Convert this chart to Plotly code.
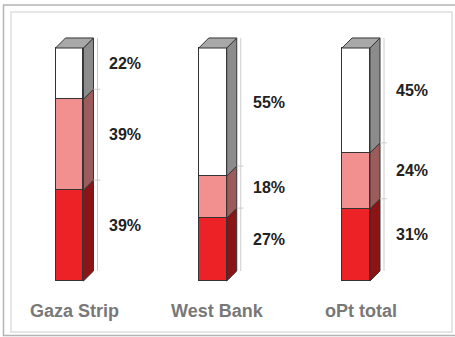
import plotly.graph_objects as go

# Employment status shares by region (%), stacked bottom to top
regions = ["Gaza Strip", "West Bank", "oPt total"]
bottom_share = [39, 27, 31]   # red segment
middle_share = [39, 18, 24]   # pink segment
top_share = [22, 55, 45]      # white segment
pct_labels_bottom = ["39%", "27%", "31%"]
pct_labels_middle = ["39%", "18%", "24%"]
pct_labels_top = ["22%", "55%", "45%"]

W, H = 455, 337
BAR_W = 0.195     # front face width (x units)
DX = 0.07         # pseudo-3D depth offset in x
DY = 4.3          # pseudo-3D depth offset in y
EDGE = "#333333"

front_colors = ["#ec2226", "#f28f8f", "#ffffff"]
side_colors = ["#8a1416", "#9c5c5c", "#8c8c8c"]
top_color = "#a8a8a8"

fig = go.Figure()

segments = [bottom_share, middle_share, top_share]
names = ["bottom", "middle", "top"]
xs = list(range(len(regions)))

# front faces as stacked bars
for seg, col, nm in zip(segments, front_colors, names):
    fig.add_trace(go.Bar(
        x=xs, y=seg, width=BAR_W, name=nm,
        marker=dict(color=col, line=dict(color=EDGE, width=1)),
        hoverinfo="skip", showlegend=False,
    ))


def poly(px, py, fill):
    fig.add_trace(go.Scatter(
        x=px + [px[0]], y=py + [py[0]], mode="lines", fill="toself",
        fillcolor=fill, line=dict(color=EDGE, width=1),
        hoverinfo="skip", showlegend=False,
    ))


def thin(px, py, color="#cccccc", width=1):
    fig.add_trace(go.Scatter(
        x=px, y=py, mode="lines", line=dict(color=color, width=width),
        hoverinfo="skip", showlegend=False,
    ))


for i in xs:
    xl = i - BAR_W / 2
    xr = i + BAR_W / 2
    vals = [bottom_share[i], middle_share[i], top_share[i]]
    total = sum(vals)
    # back reference line with segment ticks
    back_x = xr + DX + 0.028
    thin([back_x, back_x], [DY, total + DY])
    base = 0
    for k, v in enumerate(vals):
        y0, y1 = base, base + v
        # side face of each segment
        poly([xr, xr + DX, xr + DX, xr],
             [y0, y0 + DY, y1 + DY, y1], side_colors[k])
        if k > 0:
            thin([xr + DX, back_x + 0.02], [y0 + DY, y0 + DY])
        base = y1
    # top face
    poly([xl, xr, xr + DX, xl + DX],
         [total, total, total + DY, total + DY], top_color)

annotations = []
lbl_x_off = 0.265
for i in xs:
    vals = [bottom_share[i], middle_share[i], top_share[i]]
    texts = [pct_labels_bottom[i], pct_labels_middle[i], pct_labels_top[i]]
    base = 0
    for v, t in zip(vals, texts):
        annotations.append(dict(
            x=i + lbl_x_off, y=base + v / 2 + DY, text=f"<b>{t}</b>",
            showarrow=False, xanchor="left", yanchor="middle",
            font=dict(family="Liberation Sans, Arial", size=16, color="#222222"),
        ))
        base += v
    annotations.append(dict(
        x=i + DX / 2, y=-12.9, text=f"<b>{regions[i]}</b>",
        showarrow=False, xanchor="center", yanchor="middle",
        font=dict(family="Liberation Sans, Arial", size=18, color="#787878"),
    ))


def prect(x0, y0, x1, y1, color, width):
    return dict(type="rect", xref="paper", yref="paper",
                x0=x0 / W, x1=x1 / W, y0=1 - y1 / H, y1=1 - y0 / H,
                line=dict(color=color, width=width), layer="below")


shapes = [
    prect(3.5, 5, 460, 335.5, "#b4b4b4", 1.5),
    prect(11, 12, 452, 332, "#dedede", 1.5),
]

fig.update_layout(
    width=W, height=H, margin=dict(l=0, r=0, t=0, b=0),
    paper_bgcolor="white", plot_bgcolor="white",
    barmode="stack", bargap=0,
    xaxis=dict(range=[-0.485, 2.691], visible=False, fixedrange=True),
    yaxis=dict(range=[-24.03, 120.6], visible=False, fixedrange=True),
    annotations=annotations, shapes=shapes, showlegend=False,
)

fig.write_html("out.html")
